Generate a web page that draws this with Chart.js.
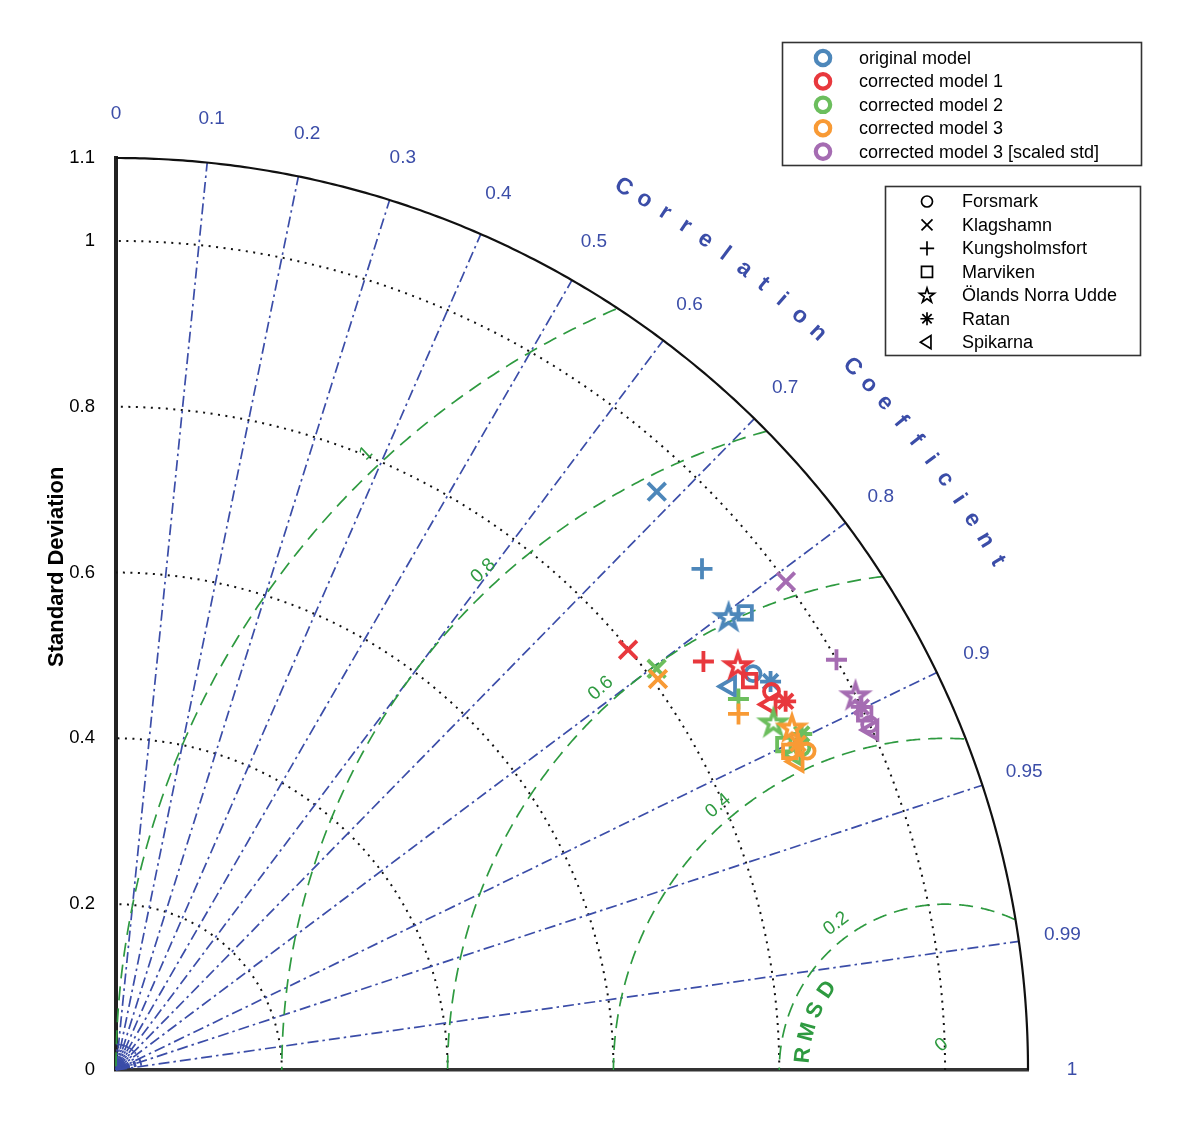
<!DOCTYPE html>
<html>
<head>
<meta charset="utf-8">
<script src="https://cdn.jsdelivr.net/npm/chart.js@4/dist/chart.umd.min.js"></script>
<style>
  html, body { margin: 0; padding: 0; background: #fff; }
</style>
</head>
<body>
<canvas id="taylor" width="1200" height="1122"></canvas>
<script>
var stations = ['Forsmark', 'Klagshamn', 'Kungsholmsfort', 'Marviken', 'Ölands Norra Udde', 'Ratan', 'Spikarna'];
var markers = ['circle', 'crossRot', 'cross', 'rect', 'pentagram', 'star', 'triangle'];
var models = ['original model', 'corrected model 1', 'corrected model 2', 'corrected model 3', 'corrected model 3 [scaled std]'];
var colors = ['#4d87ba', '#e8383d', '#6cbe5d', '#f89a35', '#a56cb2'];

// normalised std and correlation per station (same order as stations)
var stdOriginal = [0.905, 0.955, 0.930, 0.938, 0.919, 0.918, 0.873];
var corrOriginal = [0.849, 0.683, 0.760, 0.809, 0.804, 0.860, 0.848];
var stdModel1 = [0.913, 0.799, 0.863, 0.897, 0.895, 0.922, 0.904];
var corrModel1 = [0.866, 0.773, 0.821, 0.852, 0.838, 0.876, 0.873];
var stdModel2 = [0.914, 0.812, 0.874, 0.896, 0.897, 0.921, 0.903];
var corrModel2 = [0.905, 0.803, 0.859, 0.899, 0.884, 0.898, 0.907];
var stdModel3 = [0.918, 0.806, 0.865, 0.899, 0.914, 0.912, 0.902];
var corrModel3 = [0.908, 0.811, 0.868, 0.904, 0.892, 0.902, 0.911];
var stdScaled = [1.0, 1.0, 1.0, 1.0, 1.0, 1.0, 1.0];
var corrScaled = [0.909, 0.808, 0.869, 0.903, 0.892, 0.899, 0.912];

var refStd = 1.0;
var stdTicks = [0, 0.2, 0.4, 0.6, 0.8, 1, 1.1];
var stdArcs = [0.2, 0.4, 0.6, 0.8, 1.0];
var corrLines = [0.1, 0.2, 0.3, 0.4, 0.5, 0.6, 0.7, 0.8, 0.9, 0.95, 0.99];
var corrMinor = [0.05, 0.15, 0.25, 0.35, 0.45, 0.55, 0.65, 0.75, 0.85, 0.91, 0.92, 0.93, 0.94, 0.96, 0.97, 0.98];
var corrLabels = [0, 0.1, 0.2, 0.3, 0.4, 0.5, 0.6, 0.7, 0.8, 0.9, 0.95, 0.99, 1];
var rmsdArcs = [0.2, 0.4, 0.6, 0.8, 1.0];
var rmsdLabels = [0, 0.2, 0.4, 0.6, 0.8, 1];

var stdAll = [stdOriginal, stdModel1, stdModel2, stdModel3, stdScaled];
var corrAll = [corrOriginal, corrModel1, corrModel2, corrModel3, corrScaled];

var FONT = '"Liberation Sans", Arial, Helvetica, sans-serif';
var BLUE = '#3b4da8';
var GREEN = '#2e9a40';
var RMAX = 1.1;

function starPath(g, cx, cy, R) {
  var r = R * 0.382;
  g.beginPath();
  for (var k = 0; k < 10; k++) {
    var a = -Math.PI / 2 + k * Math.PI / 5;
    var rr = k % 2 ? r : R;
    g.lineTo(cx + rr * Math.cos(a), cy + rr * Math.sin(a));
  }
  g.closePath();
}

function starCanvas(color) {
  var c = document.createElement('canvas');
  c.width = c.height = 36;
  var g = c.getContext('2d');
  starPath(g, 18, 19, 12.5);
  g.strokeStyle = color;
  g.lineWidth = 3.6;
  g.stroke();
  return c;
}

var datasets = models.map(function (name, i) {
  var star = starCanvas(colors[i]);
  return {
    label: name,
    order: models.length - i,
    data: stdAll[i].map(function (s, k) {
      var c = corrAll[i][k];
      return { x: s * c, y: s * Math.sqrt(1 - c * c) };
    }),
    showLine: false,
    borderColor: colors[i],
    backgroundColor: 'rgba(0,0,0,0)',
    pointBorderWidth: 3.8,
    pointStyle: markers.map(function (m) { return m === 'pentagram' ? star : m; }),
    pointRadius: [7.5, 12.5, 10.5, 9.5, 11, 10.5, 10.5],
    pointRotation: [0, 0, 0, 0, 0, 0, -90],
    clip: false
  };
});

function drawMarker(ctx, style, x, y, size) {
  ctx.beginPath();
  if (style === 'circle') {
    ctx.arc(x, y, size, 0, Math.PI * 2);
  } else if (style === 'crossRot') {
    ctx.moveTo(x - size, y - size); ctx.lineTo(x + size, y + size);
    ctx.moveTo(x - size, y + size); ctx.lineTo(x + size, y - size);
  } else if (style === 'cross') {
    var s = size * 1.3;
    ctx.moveTo(x - s, y); ctx.lineTo(x + s, y);
    ctx.moveTo(x, y - s); ctx.lineTo(x, y + s);
  } else if (style === 'rect') {
    ctx.rect(x - size, y - size, size * 2, size * 2);
  } else if (style === 'pentagram') {
    starPath(ctx, x, y + 0.5, size * 1.4);
  } else if (style === 'star') {
    var t = size * 1.2;
    for (var k = 0; k < 4; k++) {
      var a = k * Math.PI / 4;
      ctx.moveTo(x - t * Math.cos(a), y - t * Math.sin(a));
      ctx.lineTo(x + t * Math.cos(a), y + t * Math.sin(a));
    }
  } else if (style === 'triangle') {
    var h = size * 1.2;
    ctx.moveTo(x - h, y); ctx.lineTo(x + h * 0.6, y - h); ctx.lineTo(x + h * 0.6, y + h);
    ctx.closePath();
  }
  ctx.stroke();
}

// point where the 45 deg label guide crosses an rmsd circle of radius R
function rmsdLabelPos(R) {
  var lift = 0.045;
  var u = (-2 * lift + Math.sqrt(4 * lift * lift - 8 * (lift * lift - R * R))) / 4;
  return [refStd - u, lift + u];
}

var taylorGrid = {
  id: 'taylorGrid',
  beforeDatasetsDraw: function (chart) {
    var ctx = chart.ctx, xs = chart.scales.x, ys = chart.scales.y;
    function P(x, y) { return [xs.getPixelForValue(x), ys.getPixelForValue(y)]; }
    function polar(r, t) { return P(r * Math.cos(t), r * Math.sin(t)); }
    ctx.save();

    // std arcs (dotted)
    ctx.strokeStyle = '#111';
    ctx.lineWidth = 2;
    ctx.setLineDash([2, 5.5]);
    stdArcs.forEach(function (r) {
      ctx.beginPath();
      for (var k = 0; k <= 200; k++) {
        var p = polar(r, Math.PI / 2 * k / 200);
        k ? ctx.lineTo(p[0], p[1]) : ctx.moveTo(p[0], p[1]);
      }
      ctx.stroke();
    });

    // correlation lines (dash-dot)
    ctx.strokeStyle = BLUE;
    ctx.lineWidth = 1.7;
    ctx.setLineDash([11, 4, 2.5, 4]);
    corrLines.forEach(function (c) {
      var t = Math.acos(c), a = polar(0, t), b = polar(RMAX, t);
      ctx.beginPath(); ctx.moveTo(a[0], a[1]); ctx.lineTo(b[0], b[1]); ctx.stroke();
    });
    corrMinor.forEach(function (c) {
      var t = Math.acos(c), a = polar(0.004, t), b = polar(0.032, t);
      ctx.beginPath(); ctx.moveTo(a[0], a[1]); ctx.lineTo(b[0], b[1]); ctx.stroke();
    });
    ctx.setLineDash([]);
    var o = P(0, 0);
    ctx.fillStyle = BLUE;
    ctx.beginPath(); ctx.arc(o[0], o[1], 6, -Math.PI / 2, 0); ctx.lineTo(o[0], o[1]); ctx.fill();

    // rmsd arcs (dashed green), only inside the outer circle
    ctx.strokeStyle = GREEN;
    ctx.lineWidth = 1.7;
    ctx.setLineDash([14, 8]);
    rmsdArcs.forEach(function (r) {
      ctx.beginPath();
      var pen = false;
      for (var k = 0; k <= 600; k++) {
        var f = Math.PI * k / 600;
        var x = refStd + r * Math.cos(f), y = r * Math.sin(f);
        if (x >= 0 && Math.sqrt(x * x + y * y) <= RMAX) {
          var p = P(x, y);
          pen ? ctx.lineTo(p[0], p[1]) : ctx.moveTo(p[0], p[1]);
          pen = true;
        } else {
          pen = false;
        }
      }
      ctx.stroke();
    });
    ctx.setLineDash([]);

    // outer circle
    ctx.strokeStyle = '#111';
    ctx.lineWidth = 2.2;
    ctx.beginPath();
    for (var k = 0; k <= 300; k++) {
      var p = polar(RMAX, Math.PI / 2 * k / 300);
      k ? ctx.lineTo(p[0], p[1]) : ctx.moveTo(p[0], p[1]);
    }
    ctx.stroke();

    // correlation tick labels
    ctx.fillStyle = BLUE;
    ctx.font = '19px ' + FONT;
    ctx.textAlign = 'center';
    ctx.textBaseline = 'middle';
    corrLabels.forEach(function (c) {
      var p = polar(1.153, Math.acos(c));
      ctx.fillText(String(c), p[0], p[1]);
    });

    // "Correlation Coefficient" along the arc
    var title = 'Correlation Coefficient';
    ctx.font = 'bold 23px ' + FONT;
    for (var i = 0; i < title.length; i++) {
      var th = (60.1 - i * 1.368) * Math.PI / 180;
      var q = polar(1.228, th);
      ctx.save();
      ctx.translate(q[0], q[1]);
      ctx.rotate(Math.PI / 2 - th);
      ctx.fillText(title[i], 0, 0);
      ctx.restore();
    }

    // rmsd labels
    ctx.fillStyle = GREEN;
    ctx.font = '19px ' + FONT;
    rmsdLabels.forEach(function (r) {
      var pos = r === 0 ? [refStd - 0.004, 0.03] : rmsdLabelPos(r + 0.02);
      var f = r === 0 ? 130 * Math.PI / 180 : Math.atan2(pos[1], pos[0] - refStd);
      var q = P(pos[0], pos[1]);
      ctx.save();
      ctx.translate(q[0], q[1]);
      ctx.rotate(Math.PI / 2 - f);
      ctx.fillText(String(r), 0, 0);
      ctx.restore();
    });
    var word = 'RMSD';
    ctx.font = 'bold 22px ' + FONT;
    for (var j = 0; j < word.length; j++) {
      var f2 = (174 - j * 9.4) * Math.PI / 180;
      var q2 = P(refStd + 0.172 * Math.cos(f2), 0.172 * Math.sin(f2));
      ctx.save();
      ctx.translate(q2[0], q2[1]);
      ctx.rotate(Math.PI / 2 - f2);
      ctx.fillText(word[j], 0, 0);
      ctx.restore();
    }

    // y axis title
    var yt = P(0, 0.607);
    ctx.fillStyle = '#000';
    ctx.font = 'bold 22px ' + FONT;
    ctx.save();
    ctx.translate(57, yt[1]);
    ctx.rotate(-Math.PI / 2);
    ctx.fillText('Standard Deviation', 0, 0);
    ctx.restore();

    ctx.restore();
  },
  afterDraw: function (chart) {
    var ctx = chart.ctx;
    ctx.save();
    ctx.strokeStyle = '#333';
    ctx.lineWidth = 1.6;
    ctx.strokeRect(782.5, 42.5, 359, 123);
    ctx.strokeRect(885.5, 186.5, 255, 169);
    ctx.font = '18px ' + FONT;
    ctx.textAlign = 'left';
    ctx.textBaseline = 'middle';
    ctx.fillStyle = '#000';
    models.forEach(function (m, i) {
      var y = 58 + i * 23.4;
      ctx.strokeStyle = colors[i];
      ctx.lineWidth = 4.2;
      drawMarker(ctx, 'circle', 823, y, 7.2);
      ctx.fillText(m, 859, y + 1);
    });
    stations.forEach(function (s, i) {
      var y = 201.5 + i * 23.45;
      ctx.strokeStyle = '#000';
      ctx.lineWidth = 1.7;
      drawMarker(ctx, markers[i], 927, y, 5.5);
      ctx.fillText(s, 962, y + 1);
    });
    ctx.restore();
  }
};

new Chart(document.getElementById('taylor'), {
  type: 'scatter',
  data: { datasets: datasets },
  options: {
    responsive: false,
    animation: false,
    devicePixelRatio: 1,
    events: [],
    layout: { padding: { left: 0, top: 158, right: 172, bottom: 52 } },
    plugins: { legend: { display: false }, tooltip: { enabled: false } },
    scales: {
      x: {
        type: 'linear', min: 0, max: RMAX,
        grid: { display: false },
        ticks: { display: false },
        border: { display: true, color: '#333', width: 3.5 },
        afterFit: function (s) { s.height = 0; }
      },
      y: {
        type: 'linear', min: 0, max: RMAX,
        afterBuildTicks: function (s) { s.ticks = stdTicks.map(function (v) { return { value: v }; }); },
        grid: { display: false, drawTicks: false },
        border: { display: true, color: '#222', width: 4 },
        ticks: {
          padding: 21,
          color: '#000',
          font: { size: 18.5, family: FONT },
          callback: function (v) { return String(+v.toFixed(1)); }
        },
        afterFit: function (s) { s.width = 116; }
      }
    }
  },
  plugins: [taylorGrid]
});
</script>
</body>
</html>
